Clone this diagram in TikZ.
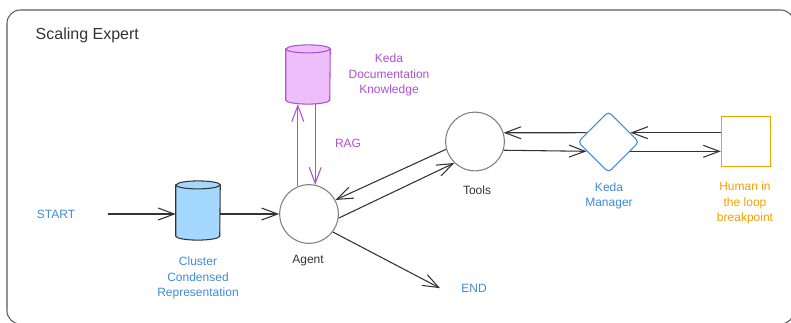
\documentclass[tikz,border=0pt]{standalone}
\usepackage{fontspec}
\setmainfont{Liberation Sans}
\usetikzlibrary{shapes.geometric,arrows.meta}
\definecolor{kblue}{HTML}{3D8BD9}
\definecolor{kpurple}{HTML}{B04FD3}
\definecolor{kpurplefill}{HTML}{EEBEFA}
\definecolor{kbluefill}{HTML}{A5D8FF}
\definecolor{korange}{HTML}{F59F00}
\definecolor{kgray}{HTML}{333333}

\begin{document}
\begin{tikzpicture}[x=0.75pt,y=-0.75pt,
  every node/.style={font=\fontsize{9}{11.5}\selectfont,align=center,text=kgray},
  flow/.style={-{Straight Barb[length=12pt,width=9pt]},line width=0.8pt,kgray},
  db/.style={minimum width=33pt,minimum height=38pt,inner sep=0pt},
  lid/.style={x radius=16.5pt,y radius=3pt},
  hub/.style={circle,draw=black!50,line width=0.8pt,minimum size=44pt,inner sep=0pt}]
\useasboundingbox (0,0) rectangle (791,322);
\draw[rounded corners=10pt,line width=0.8pt,draw=black!65] (7,10) rectangle (794,324);
\node[font=\fontsize{12}{14}\selectfont,anchor=west] (title) at (31,35) {Scaling Expert};

% flow
\node[text=kblue] (start) at (56,214) {START};
\node[db] (cluster) at (198,210.5) {};
\draw[kgray,fill=kbluefill,line width=0.8pt] (cluster.north west) -- (cluster.south west)
  arc[start angle=180,end angle=360,lid] -- (cluster.north east) arc[start angle=0,end angle=180,lid] -- cycle;
\draw[kgray,line width=0.8pt] (cluster.north west) arc[start angle=180,end angle=360,lid];
\node[text=kblue] (clustertext) at (198,278) {Cluster\\Condensed\\Representation};
\node[hub] (agent) at (309,214) {};
\node (agenttext) at (308,261) {Agent};
\node[text=kblue] (end) at (474,288) {END};

% knowledge
\node[db] (docs) at (308,74.5) {};
\draw[kpurple,fill=kpurplefill,line width=0.8pt] (docs.north west) -- (docs.south west)
  arc[start angle=180,end angle=360,lid] -- (docs.north east) arc[start angle=0,end angle=180,lid] -- cycle;
\draw[kpurple,line width=0.8pt] (docs.north west) arc[start angle=180,end angle=360,lid];
\coordinate (docsbase) at ([yshift=-3pt]docs.south);
\node[text=kpurple] (docstext) at (389,75) {Keda\\Documentation\\Knowledge};
\node[text=kpurple] (rag) at (348,143) {RAG};

% tools side
\node[hub] (tools) at (475,141.5) {};
\node (toolstext) at (477,190) {Tools};
\node[diamond,draw=kblue,line width=0.8pt,rounded corners=3pt,minimum size=46pt,inner sep=0pt] (keda) at (608.5,142) {};
\node[text=kblue] (kedatext) at (609,196) {Keda\\Manager};
\node[draw=korange,line width=0.8pt,minimum size=37pt,inner sep=0pt] (human) at (746,141.5) {};
\node[text=korange] (humantext) at (745,203) {Human in\\the loop\\breakpoint};

\draw[flow,shorten <=21pt] (start) -- (start -| cluster.west);
\draw[flow] (cluster.east |- agent) -- (agent);
\draw[flow,kpurple] (agent.112) -- (agent.112 |- docsbase);
\draw[flow,kpurple] (agent.78 |- docsbase) -- (agent.78);
\draw[flow] (tools.195) -- (agent.28);
\draw[flow] (agent.-8) -- (tools.226);
\draw[flow,shorten >=14pt] (agent.-37) -- (end.south west);
\draw[flow] (keda.157) -- (tools.17);
\draw[flow] (tools.-17) -- (keda.203);
\draw[flow] (human.west |- keda.23) -- (keda.23);
\draw[flow] (keda.-23) -- (keda.-23 -| human.west);
\end{tikzpicture}
\end{document}
